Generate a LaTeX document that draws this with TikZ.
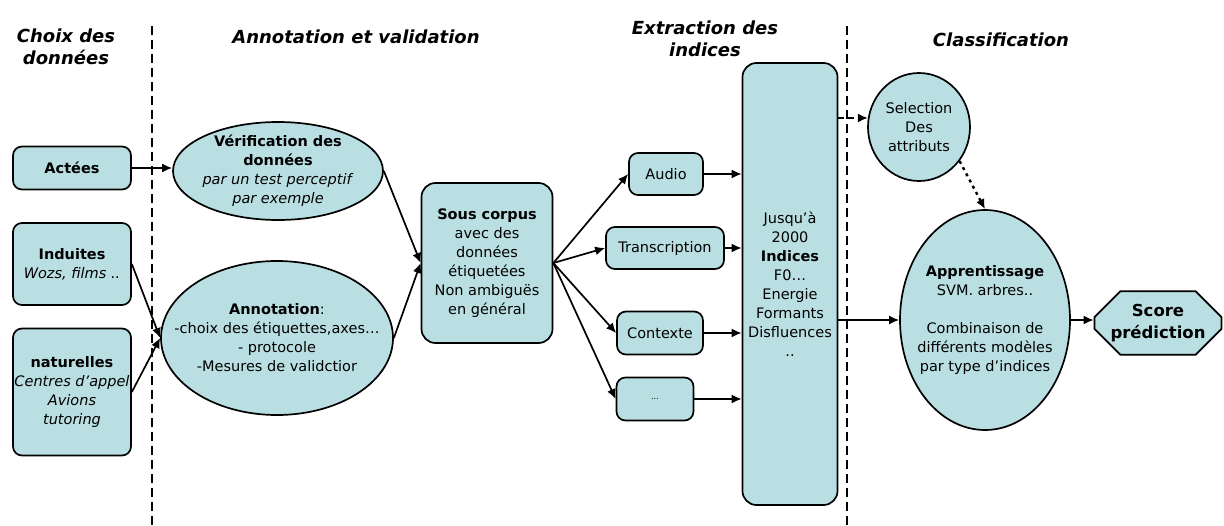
\documentclass[tikz,border=0pt]{standalone}
\usepackage{fontspec}
\setmainfont{DejaVu Sans}
\usetikzlibrary{shapes.geometric,shapes.misc,arrows.meta}
\definecolor{boxfill}{RGB}{186,223,227}
\begin{document}
\begin{tikzpicture}[x=1pt,y=-1pt,
  txt/.style={font=\fontsize{14.5}{19}\selectfont, align=center},
  rbox/.style={txt, draw=black, line width=1.7pt, fill=boxfill, rounded corners=9pt, inner sep=0pt},
  ell/.style={draw=black, line width=1.7pt, fill=boxfill, ellipse, inner sep=0pt},
  arr/.style={line width=1.7pt, -{Latex[length=10pt,width=9pt]}},
  sepline/.style={line width=1.6pt, dash pattern=on 9pt off 5pt},
  hdr/.style={font=\fontsize{18}{22}\selectfont\bfseries\itshape, align=center}
]
\useasboundingbox (0,0) rectangle (1224,525);

% headers
\node[hdr] (h1) at (66,47) {Choix des\\données};
\node[hdr] (h2) at (356,37) {Annotation et validation};
\node[hdr] (h3) at (705,39) {Extraction des\\indices};
\node[hdr] (h4) at (1001,40) {Classification};

% separators
\coordinate (s1t) at (152,26);
\coordinate (s1b) at (152,525);
\coordinate (s2t) at (847,26);
\coordinate (s2b) at (847,525);
\draw[sepline] (s1t) -- (s1b);
\draw[sepline] (s2t) -- (s2b);

% data choice
\node[rbox, minimum width=118pt, minimum height=43pt] (act) at (72,168) {\textbf{Actées}};
\node[rbox, minimum width=118pt, minimum height=82pt] (ind) at (72,264) {\textbf{Induites}\\\textit{Wozs, films ..}};
\node[rbox, minimum width=118pt, minimum height=127pt] (nat) at (72,392) {\textbf{naturelles}\\\textit{Centres d'appel}\\\textit{Avions}\\\textit{tutoring}};

% annotation
\node[ell, minimum width=210pt, minimum height=98pt] (ver) at (278,171) {};
\node[txt] (vertxt) at (ver.center) {\textbf{Vérification des}\\\textbf{données}\\\textit{par un test perceptif}\\\textit{par exemple}};
\node[ell, minimum width=232pt, minimum height=154pt] (ann) at (277,338) {};
\node[txt] (anntxt) at (ann.center) {\textbf{Annotation}:\\-choix des étiquettes,axes…\\- protocole\\-Mesures de validctior};

\node[rbox, minimum width=131pt, minimum height=160pt, rounded corners=14pt] (sc) at (487,263) {\textbf{Sous corpus}\\avec des\\données\\étiquetées\\Non ambiguës\\en général};

% extraction
\node[rbox, minimum width=74pt, minimum height=42pt] (aud) at (666,174) {Audio};
\node[rbox, minimum width=118pt, minimum height=42pt] (tra) at (665,248) {Transcription};
\node[rbox, minimum width=86pt, minimum height=43pt] (ctx) at (660,333) {Contexte};
\node[rbox, minimum width=77pt, minimum height=43pt] (dots) at (655,399) {\fontsize{8}{10}\selectfont ...};
\node[rbox, minimum width=95pt, minimum height=442pt, rounded corners=14pt] (tall) at (790,284) {Jusqu'à\\2000\\\textbf{Indices}\\F0…\\Energie\\Formants\\Disfluences\\..};

% classification
\node[ell, minimum width=102pt, minimum height=108pt] (sel) at (919,127) {};
\node[txt] (seltxt) at (sel.center) {Selection\\Des\\attributs};
\node[ell, minimum width=170pt, minimum height=220pt] (app) at (985,320) {};
\node[txt] (apptxt) at (app.center) {\textbf{Apprentissage}\\SVM. arbres..\\[19pt]Combinaison de\\différents modèles\\par type d'indices};
\node[txt, chamfered rectangle, chamfered rectangle xsep=13pt, chamfered rectangle ysep=13pt, draw=black, line width=1.7pt, fill=boxfill, inner sep=0pt, minimum width=127pt, minimum height=60pt, font=\fontsize{16.5}{22}\selectfont\bfseries] (score) at (1158,323) {Score\\prédiction};

% connectors
\draw[arr] (act.east) -- (act.east -| ver.west);
\draw[arr] (ind.east) -- (ann.west);
\draw[arr] (nat.east) -- (ann.west);
\draw[arr] (ver.east) -- (sc.west);
\draw[arr] (ann.east) -- (sc.west);
\draw[arr] (sc.east) -- (aud.west);
\draw[arr] (sc.east) -- (tra.west);
\draw[arr] (sc.east) -- (ctx.west);
\draw[arr] (sc.east) -- (dots.west);
\draw[arr] (aud.east) -- (aud.east -| tall.west);
\draw[arr] (tra.east) -- (tra.east -| tall.west);
\draw[arr] (ctx.east) -- (ctx.east -| tall.west);
\draw[arr] (dots.east) -- (dots.east -| tall.west);
\draw[arr, dash pattern=on 6pt off 4pt] (tall.east |- sel.170) -- (sel.170);
\draw[arr, line width=2.4pt, dash pattern=on 3pt off 4pt] (sel.-40) -- (app.north);
\draw[arr] (tall.east |- app.west) -- (app.west);
\draw[arr] (app.east) -- (app.east -| score.west);
\end{tikzpicture}
\end{document}
